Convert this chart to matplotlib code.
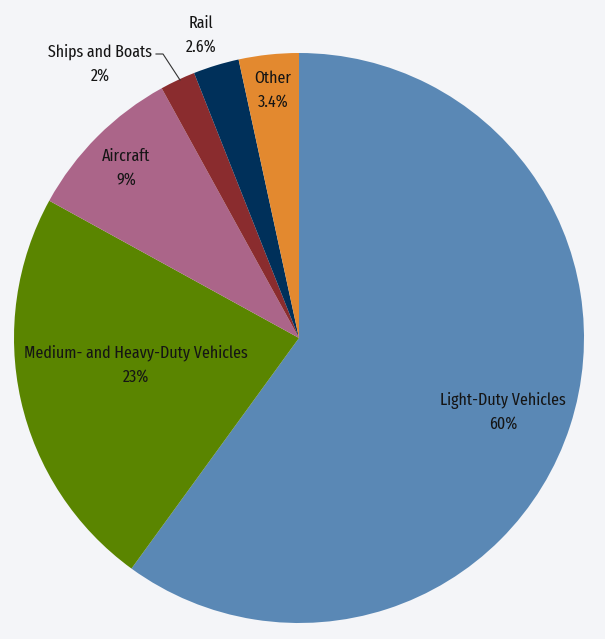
import matplotlib
matplotlib.use("Agg")
import matplotlib.pyplot as plt

# share of transportation energy use, starting at 12 o'clock, clockwise
categories = ["Light-Duty Vehicles", "Medium- and Heavy-Duty Vehicles", "Aircraft",
              "Ships and Boats", "Rail", "Other"]
shares = [60, 23, 9, 2, 2.6, 3.4]
share_labels = ["60%", "23%", "9%", "2%", "2.6%", "3.4%"]
colors = ["#5a88b5", "#5a8500", "#ab6589", "#8a2c2e", "#00305a", "#e3892f"]

BG = "#f4f5f8"
W, H = 605, 639
CX, CY, R = 299, H - 338, 285

# label anchor points in pixel coords (y measured from top)
label_pos = [(503, 412), (136, 365), (126, 168), (100, 64), (201, 35), (273, 90)]

plt.rcParams['font.family'] = ['Fira Sans Extra Condensed', 'Fira Sans Condensed',
                               'Roboto Condensed', 'DejaVu Sans']

fig = plt.figure(figsize=(W / 100, H / 100), dpi=100, facecolor=BG)
ax = fig.add_axes([0, 0, 1, 1])
ax.set_facecolor(BG)

ax.pie(shares, colors=colors, startangle=90, counterclock=False,
       center=(CX, CY), radius=R, wedgeprops=dict(linewidth=0), frame=True)
ax.set_xlim(0, W)
ax.set_ylim(0, H)
ax.set_aspect('equal')
ax.axis('off')

for name, pct, (x, y) in zip(categories, share_labels, label_pos):
    ax.text(x, H - y, name + "\n" + pct, ha='center', va='center',
            fontsize=12.5, color='#151515', linespacing=1.6)

# leader line for the small ships wedge
ax.plot([156, 163, 180], [H - 54, H - 54, H - 80], color='#333333', lw=0.8)

fig.savefig("out.png", dpi=100, facecolor=BG)
